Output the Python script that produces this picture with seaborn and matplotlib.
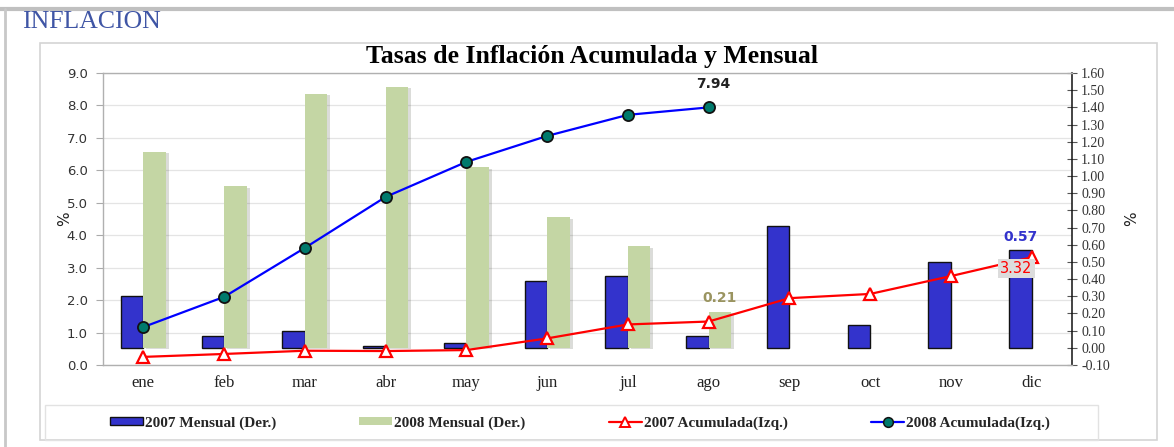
import numpy as np
import pandas as pd
import matplotlib
matplotlib.use("Agg")
import matplotlib.pyplot as plt
import matplotlib.patches as mpatches
import matplotlib.lines as mlines
import matplotlib.patheffects as pe
import seaborn as sns

# ---------------- data ----------------
meses = ['ene', 'feb', 'mar', 'abr', 'may', 'jun', 'jul', 'ago', 'sep', 'oct', 'nov', 'dic']
mensual_2007 = [0.30, 0.07, 0.10, 0.01, 0.03, 0.39, 0.42, 0.07, 0.71, 0.13, 0.50, 0.57]
mensual_2008 = [1.14, 0.94, 1.48, 1.52, 1.05, 0.76, 0.59, 0.21, np.nan, np.nan, np.nan, np.nan]
acum_2007 = [0.25, 0.34, 0.44, 0.43, 0.46, 0.82, 1.25, 1.34, 2.06, 2.19, 2.74, 3.32]
acum_2008 = [1.17, 2.10, 3.61, 5.18, 6.26, 7.06, 7.71, 7.94]
serie_names = ['2007 Mensual (Der.)', '2008 Mensual (Der.)',
               '2007 Acumulada(Izq.)', '2008 Acumulada(Izq.)']
left_ticks = [0.0, 1.0, 2.0, 3.0, 4.0, 5.0, 6.0, 7.0, 8.0, 9.0]
right_ticks = [-0.10, 0.00, 0.10, 0.20, 0.30, 0.40, 0.50, 0.60, 0.70, 0.80,
               0.90, 1.00, 1.10, 1.20, 1.30, 1.40, 1.50, 1.60]

df_bars = pd.DataFrame({
    'mes': meses * 2,
    'valor': mensual_2007 + mensual_2008,
    'serie': [serie_names[0]] * 12 + [serie_names[1]] * 12,
})

C_BLUE_BAR = '#3333CC'
C_GREEN_BAR = '#C4D6A4'
C_RED = '#FF0000'
C_BLUE_LINE = '#0000FF'
C_TEAL = '#007A6C'

sns.set_theme(style='white')
plt.rcParams['font.family'] = ['DejaVu Sans']

W, H = 1174, 447
fig = plt.figure(figsize=(W / 100, H / 100), dpi=100)
fig.patch.set_facecolor('white')

def fx(px):
    return px / W

def fy(py):
    return 1 - py / H

# decorative frames
fig.add_artist(mlines.Line2D([0, 1], [fy(9), fy(9)], transform=fig.transFigure,
                             color='#C0C0C0', lw=3))
fig.add_artist(mlines.Line2D([fx(5), fx(5)], [fy(9), 0], transform=fig.transFigure,
                             color='#C8C8C8', lw=2))
fig.add_artist(mpatches.Rectangle((fx(40), fy(440)), fx(1157) - fx(40), fy(43) - fy(440),
                                  transform=fig.transFigure, fill=False,
                                  edgecolor='#D4D4D4', lw=1.2))
fig.add_artist(mpatches.Rectangle((fx(45), fy(440)), fx(1098) - fx(45), fy(405) - fy(440),
                                  transform=fig.transFigure, fill=False,
                                  edgecolor='#E2E2E2', lw=1))

fig.text(fx(22), fy(22), 'INFLACION', family='Liberation Serif', fontsize=18.5,
         color='#3F55A5', ha='left', va='center')
fig.text(fx(592), fy(56), 'Tasas de Inflación Acumulada y Mensual',
         family='Liberation Serif', fontsize=18.5, fontweight='bold',
         color='black', ha='center', va='center')

rect = [fx(103), fy(365), fx(1072) - fx(103), fy(73) - fy(365)]

# grid axes (bottom)
ax_g = fig.add_axes(rect, zorder=0)
ax_g.set_ylim(0, 9)
ax_g.set_xlim(-0.5, 11.5)
ax_g.set_yticks(left_ticks)
ax_g.grid(axis='y', color='#E4E4E4', lw=0.9)
ax_g.tick_params(left=False, bottom=False, labelleft=False, labelbottom=False)
for s in ax_g.spines.values():
    s.set_visible(False)

# bar axes (right scale)
ax_r = fig.add_axes(rect, zorder=1)
ax_r.patch.set_visible(False)
sns.barplot(data=df_bars, x='mes', y='valor', hue='serie', order=meses,
            hue_order=serie_names[:2], palette=[C_BLUE_BAR, C_GREEN_BAR],
            width=0.56, errorbar=None, ax=ax_r, legend=False, saturation=1)
for p in ax_r.containers[0]:
    p.set_edgecolor('#111111')
    p.set_linewidth(1.0)
for p in ax_r.containers[1]:
    p.set_edgecolor('none')
    p.set_path_effects([pe.SimplePatchShadow(offset=(2, -1), alpha=0.18), pe.Normal()])

# line axes (left scale)
ax_l = ax_r.twinx()
ax_l.set_zorder(2)
ax_l.patch.set_visible(False)

# right-scale axis settings (after twinx, which moves ticks)
ax_r.set_ylim(-0.10, 1.60)
ax_r.set_xlim(-0.5, 11.5)
ax_r.yaxis.tick_right()
ax_r.yaxis.set_label_position('right')
ax_r.set_yticks(right_ticks)
ax_r.set_yticklabels([f'{v:.2f}' for v in right_ticks], family='Liberation Serif',
                     fontsize=10, color='#333333')
ax_r.tick_params(axis='y', left=False, right=True, labelleft=False, labelright=True,
                 direction='inout', length=7, width=0.8, color='#555555', pad=3)
ax_r.set_ylabel('%', fontsize=11, color='#222222', labelpad=10)
ax_r.set_xlabel('')
ax_r.set_xticks(range(12))
ax_r.set_xticklabels(meses, family='Liberation Serif', fontsize=12, color='#222222')
ax_r.tick_params(axis='x', bottom=False, length=0, pad=7)
for k, s in ax_r.spines.items():
    s.set_visible(False)
ax_r.spines['right'].set_visible(True)
ax_r.spines['right'].set_color('#111111')
ax_r.spines['right'].set_linewidth(1.1)

x07 = np.arange(len(acum_2007))
x08 = np.arange(len(acum_2008))
sns.lineplot(x=x07, y=acum_2007, ax=ax_l, color=C_RED, lw=1.6, marker='^',
             markersize=8, markerfacecolor='white', markeredgecolor=C_RED,
             markeredgewidth=1.6)
sns.lineplot(x=x08, y=acum_2008, ax=ax_l, color=C_BLUE_LINE, lw=1.6, marker='o',
             markersize=8, markerfacecolor=C_TEAL, markeredgecolor='#111111',
             markeredgewidth=1.3)
ax_l.yaxis.tick_left()
ax_l.yaxis.set_label_position('left')
ax_l.set_ylim(0, 9)
ax_l.set_xlim(-0.5, 11.5)
ax_l.set_yticks(left_ticks)
ax_l.set_yticklabels([f'{v:.1f}' for v in left_ticks], fontsize=9.5, color='#333333')
ax_l.tick_params(axis='y', left=True, right=False, labelleft=True, labelright=False,
                 direction='out', length=5, width=0.8, color='#AAAAAA', pad=6)
ax_l.set_ylabel('%', fontsize=11, color='#222222', labelpad=-4)
for k, s in ax_l.spines.items():
    s.set_visible(False)
for k in ['left', 'bottom', 'top']:
    ax_l.spines[k].set_visible(True)
    ax_l.spines[k].set_color('#B0B0B0')
    ax_l.spines[k].set_linewidth(1.0)

# data labels
ax_l.annotate(f'{acum_2008[-1]:.2f}', (x08[-1], acum_2008[-1]), xytext=(3, 12),
              textcoords='offset points', ha='center', va='bottom',
              fontsize=10, fontweight='bold', color='#222222')
ax_r.annotate(f'{mensual_2008[7]:.2f}', (7 + 0.14, mensual_2008[7]), xytext=(0, 5),
              textcoords='offset points', ha='center', va='bottom',
              fontsize=10, fontweight='bold', color='#9A9460')
ax_r.annotate(f'{mensual_2007[11]:.2f}', (11 - 0.14, mensual_2007[11]), xytext=(0, 4),
              textcoords='offset points', ha='center', va='bottom',
              fontsize=10, fontweight='bold', color='#3333CC')
ax_l.annotate(f'{acum_2007[-1]:.2f}', (x07[-1], acum_2007[-1]), xytext=(-11, -8),
              textcoords='offset points', ha='center', va='center',
              fontsize=10.5, color=C_RED,
              bbox=dict(boxstyle='square,pad=0.15', fc='#DCDCDC', ec='none'))

# legend
handles = [
    mpatches.Patch(facecolor=C_BLUE_BAR, edgecolor='#111111', lw=1.0),
    mpatches.Patch(facecolor=C_GREEN_BAR, edgecolor='none'),
    mlines.Line2D([], [], color=C_RED, lw=1.6, marker='^', markersize=7,
                  markerfacecolor='white', markeredgecolor=C_RED, markeredgewidth=1.4),
    mlines.Line2D([], [], color=C_BLUE_LINE, lw=1.6, marker='o', markersize=7,
                  markerfacecolor=C_TEAL, markeredgecolor='#111111', markeredgewidth=1.1),
]
leg = fig.legend(handles, serie_names, loc='center', ncol=4,
                 bbox_to_anchor=(fx(580), fy(423)), frameon=False,
                 prop=dict(family='Liberation Serif', weight='bold', size=11),
                 handlelength=2.15, handleheight=0.4, handletextpad=0.15,
                 columnspacing=5.45)

fig.savefig('out.png', dpi=100, facecolor='white')
